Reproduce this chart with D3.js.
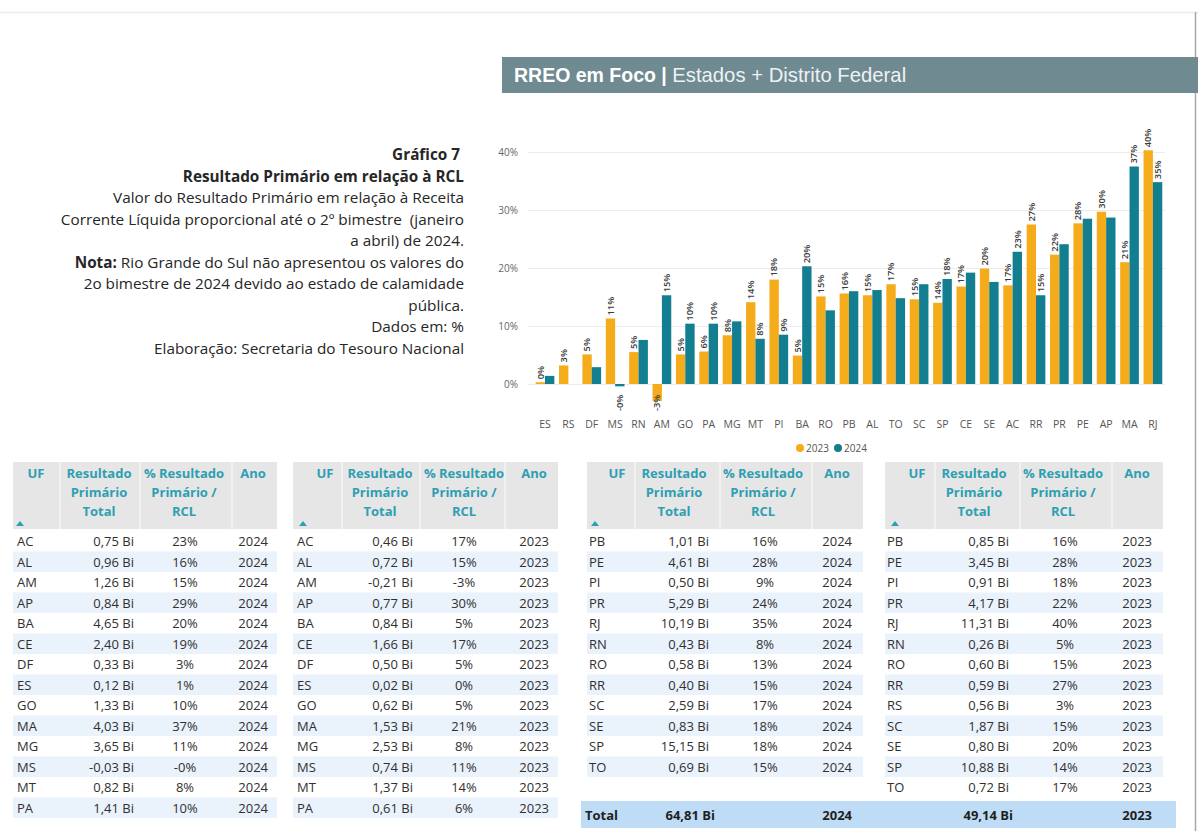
<!DOCTYPE html>
<html><head><meta charset="utf-8">
<script src="https://cdn.jsdelivr.net/npm/d3@7/dist/d3.min.js"></script>
<style>
html,body{margin:0;padding:0;background:#fff;}
svg{display:block;}
</style></head>
<body>
<svg id="c" width="1198" height="831"></svg>
<script>
// ---------- Chart data ----------
const categories = ["ES","RS","DF","MS","RN","AM","GO","PA","MG","MT","PI","BA","RO","PB","AL","TO","SC","SP","CE","SE","AC","RR","PR","PE","AP","MA","RJ"];
const series = ["2023","2024"];
const values2023 = [0.3,3.2,5.1,11.3,5.5,-2.9,5.1,5.6,8.4,14.1,18.0,4.9,15.1,15.6,15.3,17.2,14.6,14.0,16.8,19.9,17.0,27.5,22.3,27.7,29.7,21.0,40.3];
const values2024 = [1.4,null,2.9,-0.4,7.6,15.3,10.4,10.4,10.8,7.8,8.5,20.3,12.7,16.0,16.2,14.8,17.2,18.1,19.2,17.6,22.8,15.3,24.1,28.5,28.7,37.5,34.8];
const labels2023 = ["0%","3%","5%","11%","5%","-3%","5%","6%","8%","14%","18%","5%","15%","16%","15%","17%","15%","14%","17%","20%","17%","27%","22%","28%","30%","21%","40%"];
const labels2024 = [null,null,null,"-0%",null,"15%","10%","10%",null,"8%","9%","20%",null,null,null,null,null,"18%",null,null,"23%","15%",null,null,null,"37%","35%"];
const yTicks = [0,10,20,30,40];
const colors = {"2023":"#F4AC1A","2024":"#127E8F"};

// ---------- Table data ----------
const ufA = ["AC","AL","AM","AP","BA","CE","DF","ES","GO","MA","MG","MS","MT","PA"];
const resA2024 = ["0,75 Bi","0,96 Bi","1,26 Bi","0,84 Bi","4,65 Bi","2,40 Bi","0,33 Bi","0,12 Bi","1,33 Bi","4,03 Bi","3,65 Bi","-0,03 Bi","0,82 Bi","1,41 Bi"];
const pctA2024 = ["23%","16%","15%","29%","20%","19%","3%","1%","10%","37%","11%","-0%","8%","10%"];
const resA2023 = ["0,46 Bi","0,72 Bi","-0,21 Bi","0,77 Bi","0,84 Bi","1,66 Bi","0,50 Bi","0,02 Bi","0,62 Bi","1,53 Bi","2,53 Bi","0,74 Bi","1,37 Bi","0,61 Bi"];
const pctA2023 = ["17%","15%","-3%","30%","5%","17%","5%","0%","5%","21%","8%","11%","14%","6%"];
const ufB2024 = ["PB","PE","PI","PR","RJ","RN","RO","RR","SC","SE","SP","TO"];
const resB2024 = ["1,01 Bi","4,61 Bi","0,50 Bi","5,29 Bi","10,19 Bi","0,43 Bi","0,58 Bi","0,40 Bi","2,59 Bi","0,83 Bi","15,15 Bi","0,69 Bi"];
const pctB2024 = ["16%","28%","9%","24%","35%","8%","13%","15%","17%","18%","18%","15%"];
const ufB2023 = ["PB","PE","PI","PR","RJ","RN","RO","RR","RS","SC","SE","SP","TO"];
const resB2023 = ["0,85 Bi","3,45 Bi","0,91 Bi","4,17 Bi","11,31 Bi","0,26 Bi","0,60 Bi","0,59 Bi","0,56 Bi","1,87 Bi","0,80 Bi","10,88 Bi","0,72 Bi"];
const pctB2023 = ["16%","28%","18%","22%","40%","5%","15%","27%","3%","15%","20%","14%","17%"];
const totals = [{label:"Total", value:"64,81 Bi", year:"2024"},{label:"", value:"49,14 Bi", year:"2023"}];

const svg = d3.select("#c");
const FONT = "'Open Sans', 'Noto Sans', sans-serif";

// page frame lines
svg.append("line").attr("x1",0).attr("x2",1198).attr("y1",12.5).attr("y2",12.5).attr("stroke","#efefef").attr("stroke-width",2);
svg.append("line").attr("x1",1195.5).attr("x2",1195.5).attr("y1",12).attr("y2",831).attr("stroke","#a8a8a8").attr("stroke-width",1.5);

// header bar
svg.append("rect").attr("x",502).attr("y",57).attr("width",696).attr("height",36).attr("fill","#6f8a90");
const ht = svg.append("text").attr("x",514).attr("y",82).attr("font-family","'Liberation Sans', Arial, sans-serif").attr("font-size",19.5).attr("fill","#fff");
ht.append("tspan").attr("font-weight","bold").text("RREO em Foco | ");
ht.append("tspan").attr("fill","#eef2f3").attr("font-size",20.3).text("Estados + Distrito Federal");

// left description
const descLines = [
  [{t:"Gráfico 7 ",b:true}],
  [{t:"Resultado Primário em relação à RCL",b:true}],
  [{t:"Valor do Resultado Primário em relação à Receita"}],
  [{t:"Corrente Líquida proporcional até o 2º bimestre  (janeiro"}],
  [{t:"a abril) de 2024."}],
  [{t:"Nota: ",b:true},{t:"Rio Grande do Sul não apresentou os valores do"}],
  [{t:"2o bimestre de 2024 devido ao estado de calamidade"}],
  [{t:"pública."}],
  [{t:"Dados em: %"}],
  [{t:"Elaboração: Secretaria do Tesouro Nacional"}]
];
descLines.forEach((ln,i)=>{
  const t = svg.append("text").attr("x",464).attr("y",160+i*21.5).attr("text-anchor","end")
    .attr("font-family",FONT).attr("font-size",15.3).attr("fill","#262626").attr("xml:space","preserve");
  ln.forEach(p=>t.append("tspan").attr("font-weight",p.b?"bold":"normal").text(p.t));
});

// ---------- Bar chart ----------
const x0 = d3.scaleBand().domain(categories).range([533.3,1164.6]).padding(0);
const x1 = d3.scaleBand().domain(series).range([x0.bandwidth()*0.1, x0.bandwidth()*0.9]).padding(0);
const y = d3.scaleLinear().domain([0,40]).range([384,152]);

const g = svg.append("g");
g.selectAll("line.grid").data(yTicks).join("line")
  .attr("x1",528).attr("x2",1165).attr("y1",d=>y(d)+0.5).attr("y2",d=>y(d)+0.5)
  .attr("stroke","#ececec").attr("stroke-width",1);
g.selectAll("text.yt").data(yTicks).join("text")
  .attr("x",518).attr("y",d=>y(d)+3.5).attr("text-anchor","end")
  .attr("font-family",FONT).attr("font-size",10).attr("fill","#666").text(d=>d+"%");

const data = [];
categories.forEach((c,i)=>{
  data.push({c, s:"2023", v:values2023[i], l:labels2023[i]});
  data.push({c, s:"2024", v:values2024[i], l:labels2024[i]});
});
const bars = data.filter(d=>d.v!==null);
g.selectAll("rect.bar").data(bars).join("rect")
  .attr("x",d=>x0(d.c)+x1(d.s)).attr("width",x1.bandwidth())
  .attr("y",d=>Math.min(y(d.v),y(0))).attr("height",d=>Math.abs(y(d.v)-y(0)))
  .attr("fill",d=>colors[d.s]);

g.selectAll("text.lbl").data(data.filter(d=>d.l)).join("text")
  .attr("transform",d=>{
    const cx = x0(d.c)+x1(d.s)+x1.bandwidth()/2;
    const yy = d.v>=0 ? y(d.v)-3 : y(0)+27;
    return `translate(${cx},${yy}) rotate(-90)`;
  })
  .attr("dy","0.35em").attr("text-anchor","start")
  .attr("font-family",FONT).attr("font-size",9.3).attr("font-weight",600).attr("fill","#3a3a3a")
  .text(d=>d.l);

g.selectAll("text.xt").data(categories).join("text")
  .attr("x",d=>x0(d)+x0.bandwidth()/2).attr("y",428).attr("text-anchor","middle")
  .attr("font-family",FONT).attr("font-size",10.5).attr("fill","#555").text(d=>d);

// legend
const leg = svg.append("g");
[{s:"2023",x:800},{s:"2024",x:838}].forEach(o=>{
  leg.append("circle").attr("cx",o.x).attr("cy",448).attr("r",4).attr("fill",colors[o.s]);
  leg.append("text").attr("x",o.x+6).attr("y",452).attr("font-family",FONT).attr("font-size",10).attr("fill","#555").text(o.s);
});

// ---------- Tables ----------
const rowTop = 531, rowH = 20.5;
const tables = [
  {left:13,right:277,seps:[60,140,232],ufX:17,valR:134,pctC:185,anoR:268,hdr:[36,99,184,253],tri:20,uf:ufA,res:resA2024,pct:pctA2024,year:"2024"},
  {left:293,right:558,seps:[342,420,505],ufX:297,valR:413,pctC:464,anoR:549,hdr:[325,380,464,534],tri:303,uf:ufA,res:resA2023,pct:pctA2023,year:"2023"},
  {left:587,right:863,seps:[635,720,812],ufX:589,valR:709,pctC:765,anoR:852,hdr:[617,674,763,837],tri:595,uf:ufB2024,res:resB2024,pct:pctB2024,year:"2024"},
  {left:885,right:1163,seps:[935,1020,1112],ufX:887,valR:1009,pctC:1065,anoR:1152,hdr:[917,974,1063,1137],tri:895,uf:ufB2023,res:resB2023,pct:pctB2023,year:"2023"}
];
const hdrCols = [["UF"],["Resultado","Primário","Total"],["% Resultado","Primário /","RCL"],["Ano"]];
const HDRC = "#2E9FB2";

tables.forEach(T=>{
  const tg = svg.append("g");
  tg.append("rect").attr("x",T.left).attr("y",462).attr("width",T.right-T.left).attr("height",67).attr("fill","#e6e6e6");
  T.seps.forEach(sx=>tg.append("line").attr("x1",sx).attr("x2",sx).attr("y1",462).attr("y2",529).attr("stroke","#f4f4f4").attr("stroke-width",1.5));
  hdrCols.forEach((lines,ci)=>{
    lines.forEach((ln,li)=>{
      tg.append("text").attr("x",T.hdr[ci]).attr("y",478+li*19).attr("text-anchor","middle")
        .attr("font-family",FONT).attr("font-size",13).attr("font-weight","bold").attr("fill",HDRC).text(ln);
    });
  });
  tg.append("path").attr("d",`M${T.tri-4},${526}L${T.tri+4},${526}L${T.tri},${521}Z`).attr("fill",HDRC);
  T.uf.forEach((u,i)=>{
    const top = rowTop + i*rowH;
    if(i%2===1) tg.append("rect").attr("x",T.left).attr("y",top).attr("width",T.right-T.left).attr("height",rowH).attr("fill","#eaf2fc");
    const by = top+15;
    const txt = (x,anchor,s)=>tg.append("text").attr("x",x).attr("y",by).attr("text-anchor",anchor)
      .attr("font-family",FONT).attr("font-size",13).attr("fill","#303030").text(s);
    txt(T.ufX,"start",u);
    txt(T.valR,"end",T.res[i]);
    txt(T.pctC,"middle",T.pct[i]);
    txt(T.anoR,"end",T.year);
  });
});

// totals row
svg.append("rect").attr("x",581).attr("y",801).attr("width",595).attr("height",27).attr("fill","#bfdcf6");
const tt = (x,anchor,s)=>svg.append("text").attr("x",x).attr("y",819.5).attr("text-anchor",anchor)
  .attr("font-family",FONT).attr("font-size",13).attr("font-weight","bold").attr("fill","#1f1f1f").text(s);
tt(585,"start",totals[0].label);
tt(715,"end",totals[0].value);
tt(852,"end",totals[0].year);
tt(1013,"end",totals[1].value);
tt(1152,"end",totals[1].year);
</script>
</body></html>
